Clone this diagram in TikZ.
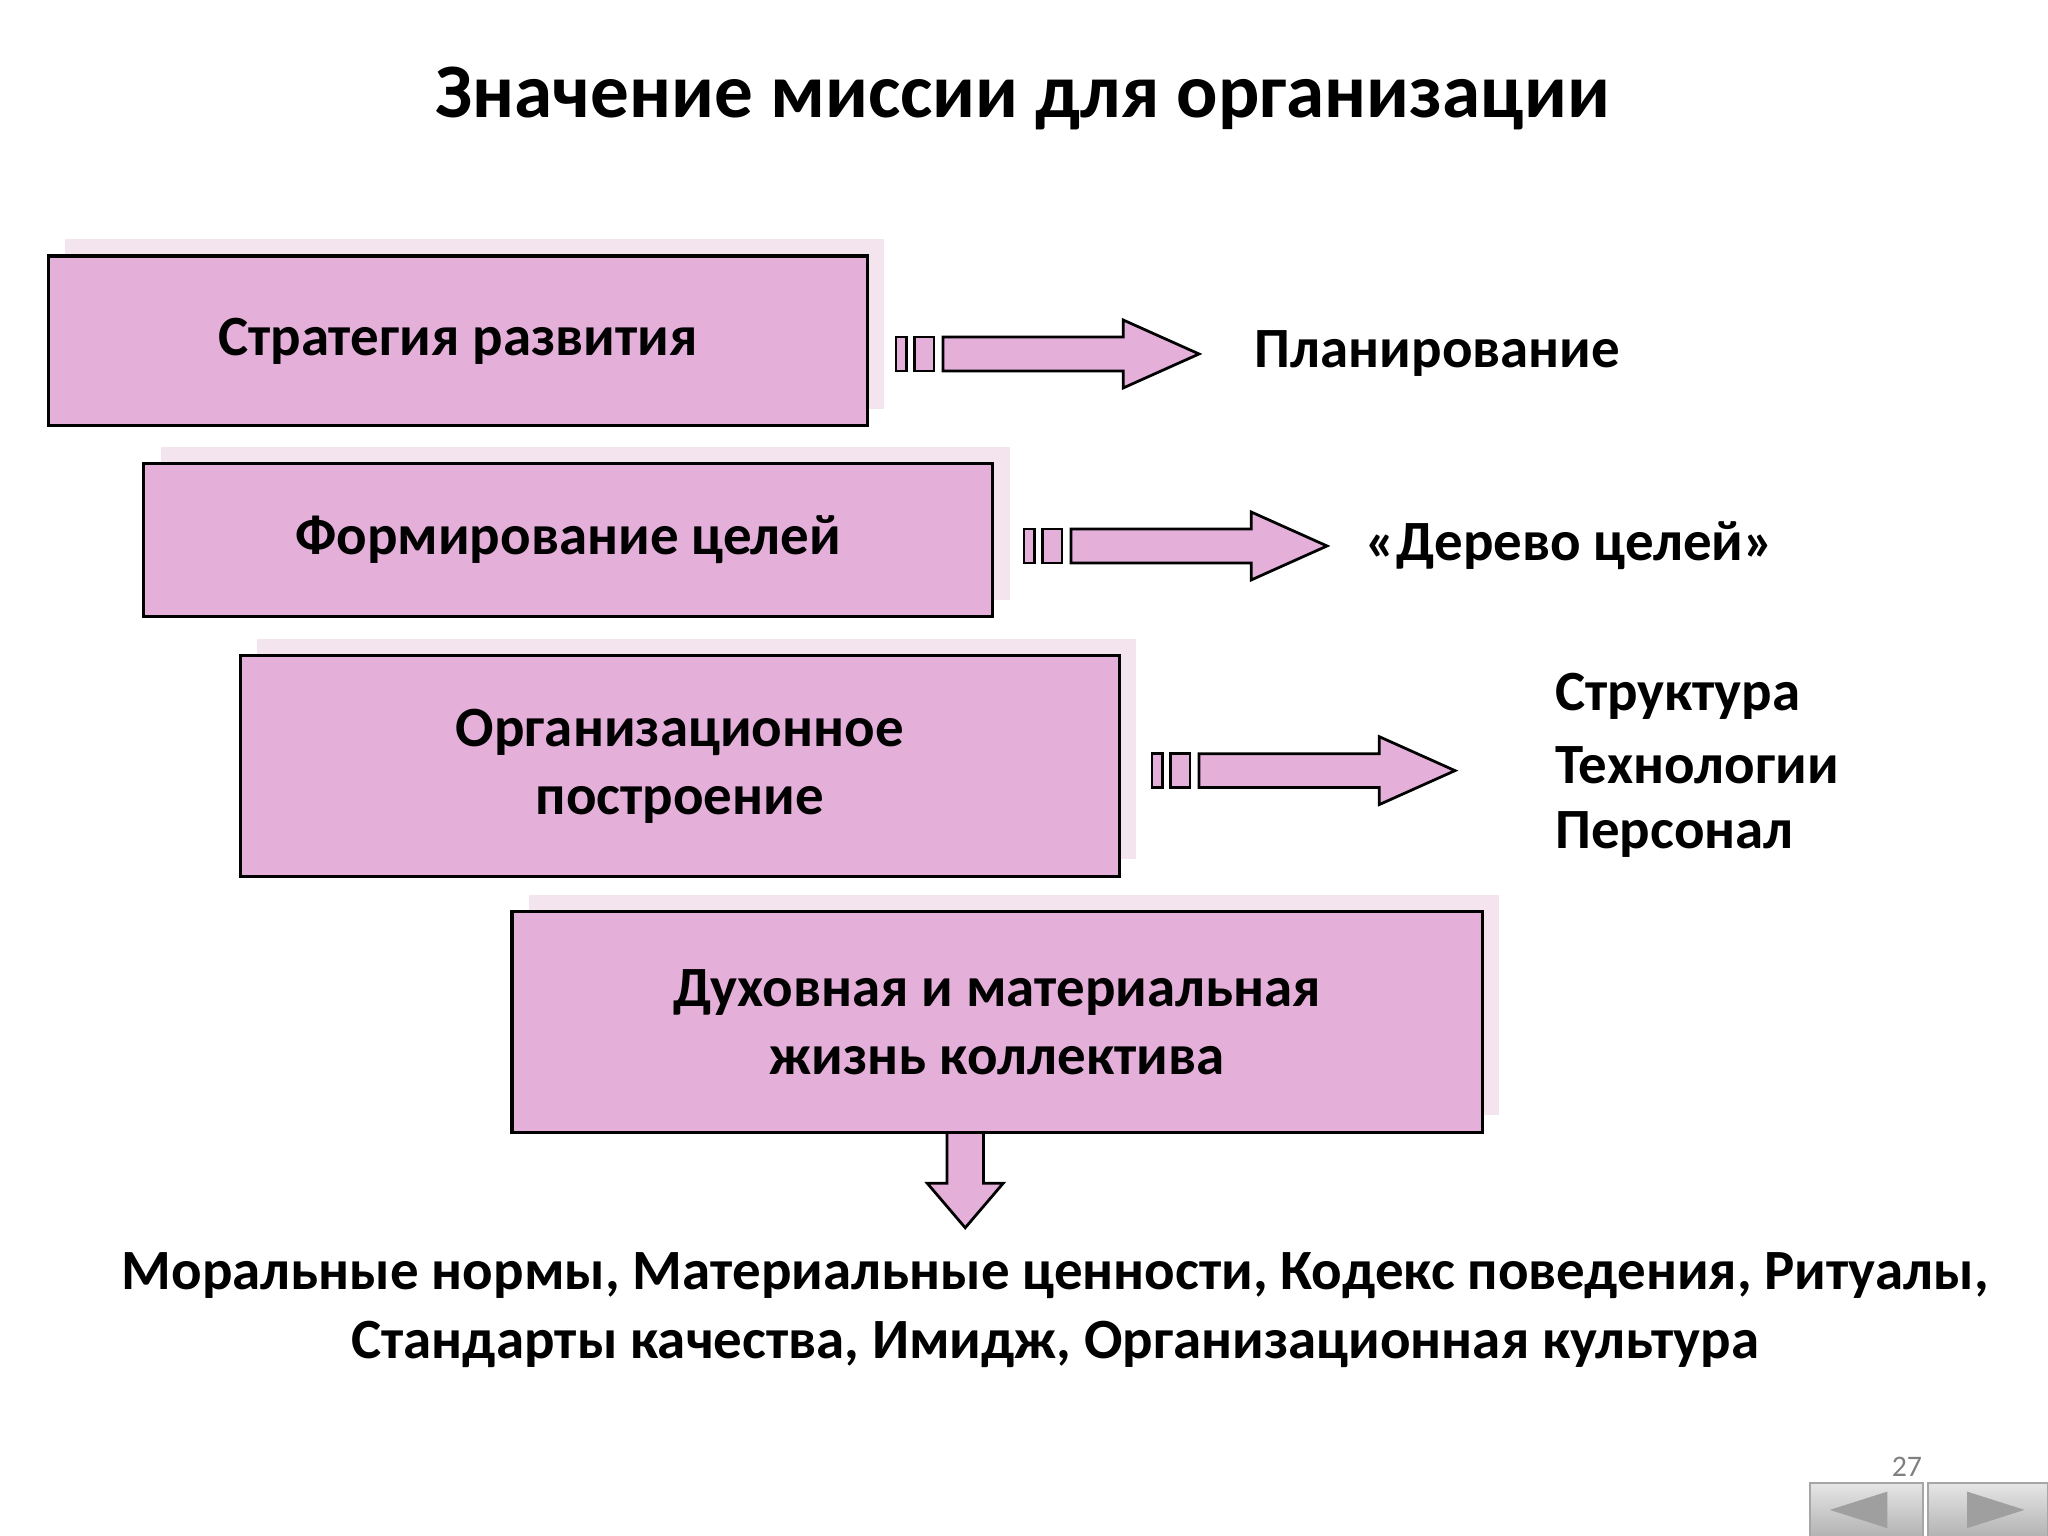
\documentclass[tikz,border=0pt]{standalone}
\usepackage{fontspec}
\setmainfont{Carlito}
\usetikzlibrary{shadows}
\definecolor{boxc}{HTML}{E4AFD9}
\definecolor{shc}{HTML}{F4E4EE}
\begin{document}
\begin{tikzpicture}[x=0.1mm,y=-0.1mm,
  box/.style={draw=black,line width=0.7pt,fill=boxc,align=center,
    font=\fontsize{12.4}{14.8}\selectfont\bfseries,
    drop shadow={shadow xshift=1.3mm,shadow yshift=1.3mm,fill=shc,opacity=1}},
  arr/.style={draw=black,line width=0.6pt,fill=boxc},
  lbl/.style={font=\fontsize{12.4}{14.8}\selectfont\bfseries,anchor=west,inner sep=0pt}]
\useasboundingbox[fill=white] (0,0) rectangle (1568,1176);
\node[font=\fontsize{16.8}{20}\selectfont\bfseries] (title) at (783,75) {Значение миссии для организации};
\node[box,minimum width=62.7mm,minimum height=13mm] (b1) at (350.5,261) {Стратегия развития};
\node[box,minimum width=65mm,minimum height=11.7mm] (b2) at (435,413.5) {Формирование целей};
\node[box,minimum width=67.3mm,minimum height=16.9mm] (b3) at (520.5,586.5) {Организационное\\построение};
\node[box,minimum width=74.3mm,minimum height=16.9mm] (b4) at (763.5,782.5) {Духовная и материальная\\жизнь коллектива};
% arrows
\foreach \n/\x/\y in {1/686/271,2/784/418,3/882/590}{
  \coordinate (a\n) at (\x,\y);
  \draw[arr] ([shift={(0,-13)}]a\n) rectangle ([shift={(8,13)}]a\n);
  \draw[arr] ([shift={(14,-13)}]a\n) rectangle ([shift={(29,13)}]a\n);
  \draw[arr] ([shift={(36,-13)}]a\n) -- ([shift={(174,-13)}]a\n) -- ([shift={(174,-26)}]a\n)
    -- ([shift={(232,0)}]a\n) -- ([shift={(174,26)}]a\n) -- ([shift={(174,13)}]a\n)
    -- ([shift={(36,13)}]a\n) -- cycle;
}
\coordinate (d) at (739,867);
\draw[arr] ([shift={(-14,0)}]d) -- ([shift={(14,0)}]d) -- ([shift={(14,39)}]d) -- ([shift={(29,39)}]d)
  -- ([shift={(0,73)}]d) -- ([shift={(-29,39)}]d) -- ([shift={(-14,39)}]d) -- cycle;
\node[lbl] (t1) at (960,271) {Планирование};
\node[lbl] (t2) at (1045,418) {«Дерево целей»};
\node[lbl] (t3) at (1190,533) {Структура};
\node[lbl] (t4) at (1190,586) {Технологии};
\node[lbl] (t5) at (1190,639) {Персонал};
\node[font=\fontsize{12.4}{15.1}\selectfont\bfseries,align=center] (bottom) at (808,1003)
  {Моральные нормы, Материальные ценности, Кодекс поведения, Ритуалы,\\Стандарты качества, Имидж, Организационная культура};
\node[font=\fontsize{6.5}{8}\selectfont,text=gray] (pn) at (1460,1123) {27};
\node[draw=gray!70,top color=gray!20,bottom color=gray!60,minimum width=8.6mm,minimum height=4.1mm,inner sep=0pt] (nb1) at (1429,1156) {};
\node[draw=gray!70,top color=gray!20,bottom color=gray!60,minimum width=9.2mm,minimum height=4.1mm,inner sep=0pt] (nb2) at (1522,1156) {};
\fill[gray!75] ([shift={(-28,0)}]nb1.center) -- ([shift={(16,-14)}]nb1.center) -- ([shift={(16,14)}]nb1.center) -- cycle;
\fill[gray!75] ([shift={(28,0)}]nb2.center) -- ([shift={(-16,-14)}]nb2.center) -- ([shift={(-16,14)}]nb2.center) -- cycle;
\end{tikzpicture}
\end{document}
